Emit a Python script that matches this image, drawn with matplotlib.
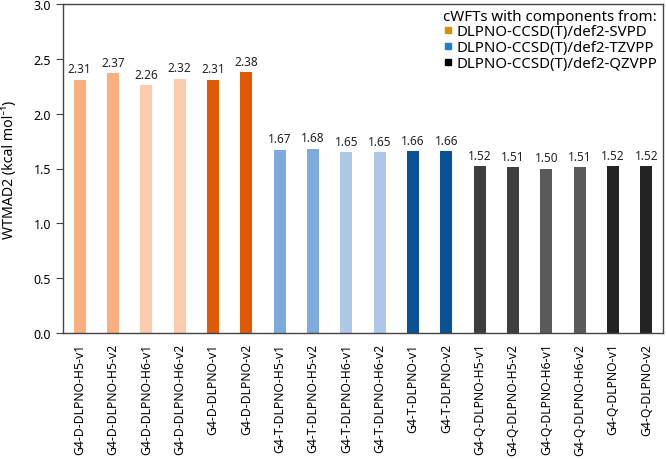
import matplotlib
matplotlib.use("Agg")
import matplotlib.pyplot as plt
from matplotlib.lines import Line2D

plt.rcParams['font.family'] = ['Noto Sans', 'DejaVu Sans']

categories = [
    "G4-D-DLPNO-H5-v1", "G4-D-DLPNO-H5-v2", "G4-D-DLPNO-H6-v1", "G4-D-DLPNO-H6-v2",
    "G4-D-DLPNO-v1", "G4-D-DLPNO-v2",
    "G4-T-DLPNO-H5-v1", "G4-T-DLPNO-H5-v2", "G4-T-DLPNO-H6-v1", "G4-T-DLPNO-H6-v2",
    "G4-T-DLPNO-v1", "G4-T-DLPNO-v2",
    "G4-Q-DLPNO-H5-v1", "G4-Q-DLPNO-H5-v2", "G4-Q-DLPNO-H6-v1", "G4-Q-DLPNO-H6-v2",
    "G4-Q-DLPNO-v1", "G4-Q-DLPNO-v2",
]
values = [2.31, 2.37, 2.26, 2.32, 2.31, 2.38,
          1.67, 1.68, 1.65, 1.65, 1.66, 1.66,
          1.52, 1.51, 1.50, 1.51, 1.52, 1.52]
bar_colors = ["#FBAE7E", "#FBAE7E", "#FDCCAC", "#FDCCAC", "#E05A06", "#E05A06",
              "#7FAADE", "#7FAADE", "#AEC8EA", "#AEC8EA", "#0B5199", "#0B5199",
              "#3E3E3E", "#3E3E3E", "#5A5A5A", "#5A5A5A", "#232323", "#232323"]
legend_labels = ["DLPNO-CCSD(T)/def2-SVPD", "DLPNO-CCSD(T)/def2-TZVPP", "DLPNO-CCSD(T)/def2-QZVPP"]
legend_colors = ["#D4900A", "#1F7FC4", "#000000"]
yticks = [0.0, 0.5, 1.0, 1.5, 2.0, 2.5, 3.0]

fig = plt.figure(figsize=(6.66, 4.6), dpi=100)
ax = fig.add_axes([63/666, 1 - 334/460, 600/666, 329/460])

x = list(range(len(categories)))
bars = ax.bar(x, values, width=0.36, color=bar_colors)
for xi, v in zip(x, values):
    ax.text(xi, v + 0.04, f"{v:.2f}", ha="center", va="bottom", fontsize=8.5, color="#222222")

ax.set_xlim(-0.5, len(categories) - 0.5)
ax.set_ylim(0, 3.0)
ax.set_yticks(yticks)
ax.set_yticklabels([f"{t:.1f}" for t in yticks], fontsize=9)
ax.set_xticks(x)
ax.set_xticklabels(categories, rotation=90, fontsize=8.8)
ax.tick_params(axis="x", length=0, pad=7)
ax.tick_params(axis="y", length=5, width=0.8, color="#444444")
for s in ax.spines.values():
    s.set_color("#444444")
    s.set_linewidth(1.0)
ax.set_ylabel("WTMAD2 (kcal mol⁻¹)", fontsize=10.2, labelpad=12)

handles = [Line2D([0], [0], marker="s", linestyle="none", markersize=5, color=c) for c in legend_colors]
leg = ax.legend(handles, legend_labels, title="cWFTs with components from:", loc="upper right",
                bbox_to_anchor=(0.995, 0.995), frameon=False, fontsize=10.8, title_fontsize=10.8,
                handletextpad=0.25, handlelength=0.6, labelspacing=0.05, borderpad=0.2,
                borderaxespad=0.0)
leg._legend_box.align = "left"

fig.savefig("out.png", dpi=100)
